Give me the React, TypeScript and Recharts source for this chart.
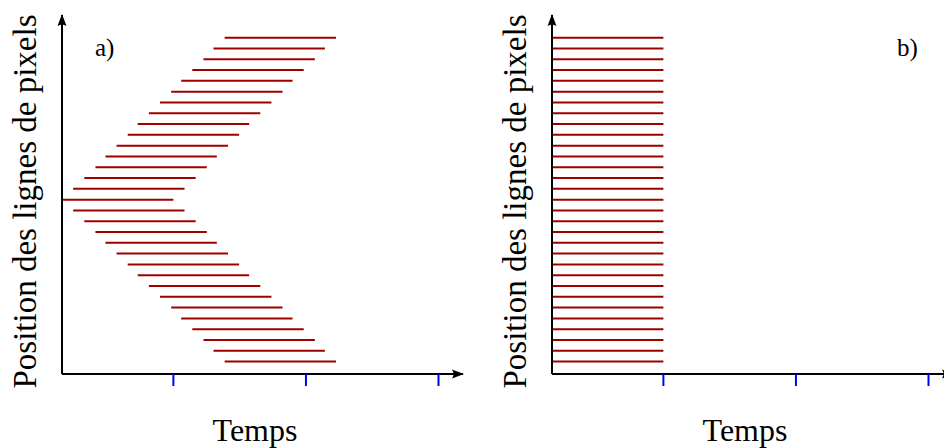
import { ComposedChart, Line, XAxis, YAxis, ReferenceDot } from "recharts";

// row number of each exposed pixel line, bottom (1) to top (31)
const rows = [
  1, 2, 3, 4, 5, 6, 7, 8, 9, 10, 11, 12, 13, 14, 15, 16,
  17, 18, 19, 20, 21, 22, 23, 24, 25, 26, 27, 28, 29, 30, 31,
];

// a) rolling exposure: start / end time of each line
const startsA = [
  14.6, 13.6, 12.7, 11.7, 10.7, 9.8, 8.8, 7.8, 6.8, 5.9, 4.9, 3.9, 3.0, 2.0, 1.0, 0,
  1.0, 2.0, 3.0, 3.9, 4.9, 5.9, 6.8, 7.8, 8.8, 9.8, 10.7, 11.7, 12.7, 13.6, 14.6,
];
const endsA = [
  24.6, 23.6, 22.7, 21.7, 20.7, 19.8, 18.8, 17.8, 16.8, 15.9, 14.9, 13.9, 13.0, 12.0, 11.0, 10,
  11.0, 12.0, 13.0, 13.9, 14.9, 15.9, 16.8, 17.8, 18.8, 19.8, 20.7, 21.7, 22.7, 23.6, 24.6,
];

// b) global exposure: every line starts and stops together
const startsB = [
  0, 0, 0, 0, 0, 0, 0, 0, 0, 0, 0, 0, 0, 0, 0, 0,
  0, 0, 0, 0, 0, 0, 0, 0, 0, 0, 0, 0, 0, 0, 0,
];
const endsB = [
  10, 10, 10, 10, 10, 10, 10, 10, 10, 10, 10, 10, 10, 10, 10, 10,
  10, 10, 10, 10, 10, 10, 10, 10, 10, 10, 10, 10, 10, 10, 10,
];

const timeTicks = [10, 21.9, 33.8];
const xDomain: [number, number] = [0, 36];
const yDomain: [number, number] = [-0.15, 33.1];

const xLabel = "Temps";
const yLabel = "Position des lignes de pixels";

const LINE_RED = "#9e0000";
const TICK_BLUE = "#0000ff";
const SERIF = "'Liberation Serif', 'Times New Roman', serif";

const arrowRight = (p: any) => (
  <path
    d={`M${p.cx + 1},${p.cy} L${p.cx - 11},${p.cy - 4.5} Q${p.cx - 8},${p.cy} ${p.cx - 11},${p.cy + 4.5} Z`}
    fill="#000"
  />
);

const arrowUp = (p: any) => (
  <path
    d={`M${p.cx},${p.cy - 1} L${p.cx - 4.5},${p.cy + 11} Q${p.cx},${p.cy + 8} ${p.cx + 4.5},${p.cy + 11} Z`}
    fill="#000"
  />
);

// no tick text, only the blue tick marks
const noTickText = () => <g />;

function Panel({ starts, ends, tag, tagX }: { starts: number[]; ends: number[]; tag: string; tagX: number }) {
  const segments = rows.map((r, i) => [
    { x: starts[i], y: r },
    { x: ends[i], y: r },
  ]);

  return (
    <ComposedChart width={490} height={448} margin={{ top: 15, right: 27, bottom: 0, left: 0 }}>
      <XAxis
        type="number"
        dataKey="x"
        domain={xDomain}
        allowDataOverflow
        ticks={timeTicks}
        interval={0}
        tick={noTickText}
        tickSize={12}
        tickLine={{ stroke: TICK_BLUE, strokeWidth: 2 }}
        axisLine={{ stroke: "#000", strokeWidth: 2 }}
        height={74}
        label={() => (
          <text x={255} y={441} textAnchor="middle" fontFamily={SERIF} fontSize={32} fill="#000">
            {xLabel}
          </text>
        )}
      />
      <YAxis
        type="number"
        dataKey="y"
        domain={yDomain}
        allowDataOverflow
        ticks={[]}
        tick={false}
        tickLine={false}
        axisLine={{ stroke: "#000", strokeWidth: 2 }}
        width={62}
        label={() => (
          <g>
            <text
              x={36}
              y={201.5}
              transform="rotate(-90, 36, 201.5)"
              textAnchor="middle"
              fontFamily={SERIF}
              fontSize={33}
              fill="#000"
            >
              {yLabel}
            </text>
            <text x={tagX} y={55.5} fontFamily={SERIF} fontSize={25} fill="#000">
              {tag}
            </text>
          </g>
        )}
      />
      {segments.map((seg, i) => (
        <Line
          key={i}
          data={seg}
          dataKey="y"
          stroke={LINE_RED}
          strokeWidth={2}
          dot={false}
          activeDot={false}
          isAnimationActive={false}
        />
      ))}
      <ReferenceDot x={xDomain[1]} y={yDomain[0]} ifOverflow="visible" shape={arrowRight} />
      <ReferenceDot x={xDomain[0]} y={yDomain[1]} ifOverflow="visible" shape={arrowUp} />
    </ComposedChart>
  );
}

export default function App() {
  return (
    <div
      style={{
        position: "absolute",
        left: 0,
        top: 0,
        width: 944,
        height: 448,
        overflow: "hidden",
        background: "#fff",
      }}
    >
      <div style={{ position: "absolute", left: 0, top: 0 }}>
        <Panel starts={startsA} ends={endsA} tag="a)" tagX={95} />
      </div>
      <div style={{ position: "absolute", left: 490, top: 0 }}>
        <Panel starts={startsB} ends={endsB} tag="b)" tagX={407} />
      </div>
    </div>
  );
}
